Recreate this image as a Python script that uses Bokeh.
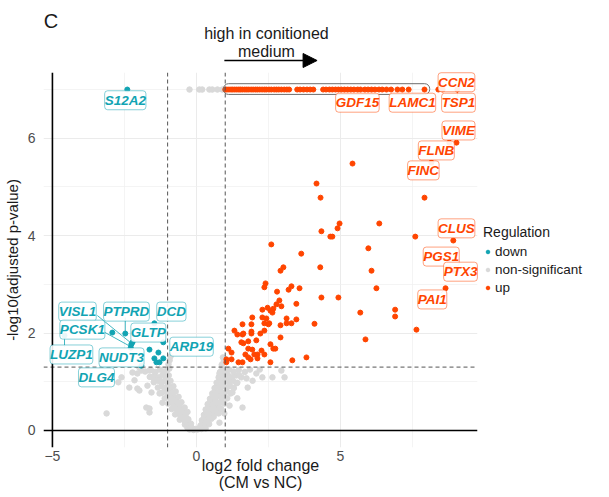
from bokeh.plotting import figure
from bokeh.layouts import column
from bokeh.models import (ColumnDataSource, FixedTicker, Span, Arrow,
                          NormalHead, Legend, LegendItem, Range1d)
from bokeh.core.properties import value
from bokeh.embed import file_html
from bokeh.resources import INLINE

FONT = "Liberation Sans"
GRAY = "#D9D9D9"
UP_C = "#FF4500"
DOWN_C = "#12A4B3"

# ---------------- data ----------------
CAP_Y = 7.0  # capped -log10 adjusted p-value

non_x = [-0.31, -0.24, -0.17, -0.1, -0.03, 0.04, 0.11, 0.18, 0.26, 0.32,
         -0.4, -0.33, -0.25, -0.19, 0.14, 0.21, 0.29, 0.37, 0.44,
         -0.58, -0.5, -0.43, -0.36, -0.28, 0.19, 0.27, 0.35, 0.43, 0.52, 0.6,
         -0.74, -0.65, -0.56, -0.48, -0.39, -0.31, 0.26, 0.34, 0.43, 0.51, 0.6, 0.69, 0.77,
         -0.86, -0.77, -0.68, -0.59, -0.5, -0.41, 0.32, 0.41, 0.5, 0.59, 0.68, 0.78, 0.86,
         -0.98, -0.88, -0.79, -0.7, -0.61, -0.52, 0.39, 0.48, 0.58, 0.67, 0.77, 0.88, 0.97,
         -1.1, -1.0, -0.9, -0.81, -0.71, -0.62, 0.47, 0.56, 0.66, 0.76, 0.86, 0.96, 1.07,
         -1.22, -1.11, -1.0, -0.91, -0.82, -0.72, 0.55, 0.64, 0.74, 0.84, 0.95, 1.06, 1.19,
         -1.34, -1.21, -1.09, -0.99, -0.9, -0.8, 0.63, 0.72, 0.82, 0.93, 1.04, 1.17, 1.3,
         -1.48, -1.33, -1.2, -1.09, -0.99, -0.9, 0.7, 0.8, 0.9, 1.01, 1.13, 1.27, 1.42,
         -1.62, -1.46, -1.31, -1.18, -1.06, -0.96, 0.77, 0.87, 0.97, 1.09, 1.22, 1.38, 1.56,
         -1.78, -1.58, -1.42, -1.27, -1.13, -1.01, -0.94, 0.82, 0.9, 1.0, 1.14, 1.29, 1.47, 1.68, 1.86,
         -0.97, -0.93, 0.88, 0.95, 0.92, -0.9,
         -3.12, -2.71, -2.6, -2.22, -1.98, -2.05, -1.63, -1.46, -1.28, -1.98, -1.74, -1.63,
         -1.7, -2.33, -1.91, -2.05, -2.15, -1.53, -1.56, -1.63, -1.28, -1.18, -0.94,
         0.8, 1.15, 1.49, 1.74, 2.08, 2.29, 2.64, 2.95, 3.06, 1.39, 1.25, 1.42, 1.6, 1.15,
         0.97, 0.8, 1.78, 2.2, 1.95,
         -0.24, 0.1, 0.2, 0.45, 0.55, 0.73, 0.9]
non_y = [0.05, 0.02, 0.06, 0.01, 0.03, 0.02, 0.05, 0.03, 0.07, 0.04,
         0.12, 0.16, 0.11, 0.14, 0.1, 0.15, 0.12, 0.16, 0.13,
         0.22, 0.26, 0.21, 0.27, 0.23, 0.21, 0.26, 0.22, 0.27, 0.24, 0.28,
         0.33, 0.36, 0.31, 0.37, 0.33, 0.38, 0.32, 0.37, 0.33, 0.38, 0.34, 0.39, 0.35,
         0.44, 0.47, 0.43, 0.48, 0.44, 0.47, 0.43, 0.48, 0.44, 0.49, 0.45, 0.48, 0.44,
         0.55, 0.58, 0.54, 0.59, 0.55, 0.58, 0.54, 0.59, 0.55, 0.6, 0.56, 0.59, 0.55,
         0.66, 0.69, 0.65, 0.7, 0.66, 0.69, 0.65, 0.7, 0.66, 0.71, 0.67, 0.7, 0.66,
         0.77, 0.8, 0.76, 0.81, 0.77, 0.8, 0.76, 0.81, 0.77, 0.81, 0.77, 0.8, 0.76,
         0.88, 0.91, 0.87, 0.92, 0.88, 0.91, 0.87, 0.92, 0.88, 0.92, 0.88, 0.91, 0.87,
         0.99, 1.02, 0.98, 1.03, 0.99, 1.02, 0.98, 1.03, 0.99, 1.03, 0.99, 1.02, 0.98,
         1.1, 1.13, 1.09, 1.14, 1.1, 1.13, 1.09, 1.14, 1.1, 1.14, 1.1, 1.13, 1.09,
         1.21, 1.24, 1.2, 1.25, 1.21, 1.24, 1.27, 1.2, 1.25, 1.21, 1.25, 1.21, 1.24, 1.2, 1.25,
         1.36, 1.44, 1.35, 1.42, 1.5, 1.52,
         0.35, 0.99, 1.09, 1.19, 1.29, 1.17, 1.23, 1.09, 1.03, 0.82, 0.47, 0.37,
         0.92, 0.88, 1.23, 0.86, 1.03, 1.09, 0.78, 0.45, 0.76, 0.57, 0.88,
         1.17, 1.09, 1.13, 1.07, 1.17, 1.09, 1.09, 1.23, 1.09, 0.97, 0.78, 0.66, 0.47, 0.51,
         0.35, 0.16, 0.88, 1.25, 1.02,
         CAP_Y, CAP_Y, CAP_Y, CAP_Y, CAP_Y, CAP_Y, CAP_Y]

up_x = [8.78, 9.03, 8.16, 5.42, 4.17, 4.31, 7.92, 4.97, 4.9, 6.35, 4.34, 4.65, 4.72, 7.6,
        8.92, 5.97, 3.64, 4.3, 6.08, 8.75, 8.92, 3.58, 4.34, 4.93, 6.25, 8.65, 5.69, 6.9,
        6.9, 4.1, 7.64, 5.87,
        2.6, 2.92, 3.02, 2.4, 2.36, 2.8, 3.3, 3.2, 2.88, 2.78, 2.95, 3.47, 2.29, 2.47, 2.57,
        2.67, 2.64, 2.29, 2.43, 2.5, 2.36, 2.53, 1.94, 1.91, 3.13, 3.13, 3.3, 3.47, 2.92,
        2.36, 1.32, 1.6, 1.91, 1.91, 2.22, 1.42, 1.6, 1.63, 2.92, 1.56, 1.63, 1.8, 2.08,
        2.57, 2.67, 2.74, 1.11, 1.22, 1.8, 1.94, 1.7, 1.8, 1.88, 2.01, 2.12, 2.12, 2.36,
        2.26, 1.04, 1.22, 1.46, 1.6, 1.04, 2.57, 3.33, 3.82]
up_y = [5.91, 5.91, 5.5, 5.48, 5.07, 4.78, 4.78, 4.25, 4.15, 4.25, 4.09, 3.98, 3.98, 3.98,
        3.9, 3.74, 3.63, 3.35, 3.28, 3.35, 3.28, 2.92, 2.73, 2.73, 2.92, 2.92, 2.42, 2.48,
        2.34, 2.19, 2.07, 1.87,
        3.82, 3.28, 3.35, 3.02, 2.94, 2.85, 2.96, 2.89, 2.67, 2.59, 2.55, 2.6, 2.48, 2.52, 2.46,
        2.5, 2.42, 2.32, 2.3, 2.18, 2.2, 2.2, 2.32, 2.18, 2.3, 2.2, 2.2, 2.28, 2.16,
        2.05, 2.05, 2.18, 2.03, 1.99, 1.99, 1.97, 1.97, 1.99, 1.91, 1.81, 1.79, 1.83, 1.85,
        1.77, 1.68, 1.68, 1.68, 1.6, 1.68, 1.66, 1.56, 1.5, 1.46, 1.56, 1.56, 1.48, 1.56,
        1.64, 1.46, 1.46, 1.4, 1.4, 1.4, 1.4, 1.44, 1.5]

# genes with capped p-value (plotted at CAP_Y)
up_top_x = [1.0, 1.06, 1.13, 1.2, 1.26, 1.33, 1.4, 1.47, 1.53, 1.6, 1.68, 1.75, 1.82, 1.9,
            1.97, 2.05, 2.12, 2.2, 2.28, 2.36, 2.43, 2.52, 2.6, 2.7, 2.78, 2.86, 2.95, 3.05,
            3.14, 3.22, 3.5, 3.6, 3.72, 3.84, 3.95, 4.06, 4.4, 4.5, 4.62, 4.72, 4.83, 4.93,
            5.03, 5.14, 5.25, 5.36, 5.47, 5.6, 5.7, 5.85, 5.96, 6.08, 6.2, 6.34, 6.45, 6.6,
            6.76, 6.98, 7.15, 7.37, 7.92]
up_top_extra_x = [8.4, 8.55, 9.06]

down_x = [-2.4, -4.58, -2.92, -2.47, -1.46, -2.22, -2.26, -2.28, -1.15, -1.63, -1.32,
          -1.15, -1.46, -1.39, -1.28, -1.91]
down_y = [CAP_Y, 1.95, 2.01, 1.99, 2.2, 1.81, 1.77, 1.7, 1.81, 1.66, 1.6, 1.48, 1.48,
          1.4, 1.4, 1.33]

label_genes = ["S12A2", "CCN2", "GDF15", "LAMC1", "TSP1", "VIME", "FLNB", "FINC", "CLUS",
               "PGS1", "PTX3", "PAI1", "VISL1", "PTPRD", "DCD", "PCSK1", "GLTP", "LUZP1",
               "NUDT3", "ARP19", "DLG4"]
label_reg = ["down", "up", "up", "up", "up", "up", "up", "up", "up", "up", "up", "up",
             "down", "down", "down", "down", "down", "down", "down", "down", "down"]
# label placements (repelled positions)
label_x = [-2.47, 9.03, 5.59, 7.5, 9.1, 9.1, 8.33, 7.88, 9.03, 8.5, 9.17, 8.19,
           -4.13, -2.43, -0.87, -3.96, -1.67, -4.34, -2.6, -0.17, -3.47]
label_y = [6.78, 7.15, 6.73, 6.73, 6.73, 6.16, 5.75, 5.34, 4.15, 3.57, 3.26, 2.69,
           2.44, 2.44, 2.44, 2.07, 2.01, 1.56, 1.5, 1.72, 1.09]

seg_x0 = [9.06, -3.44, -3.2, -2.47, -4.58, 8.65]
seg_y0 = [CAP_Y, 2.36, 2.02, 2.32, 1.72, 2.92]
seg_x1 = [9.06, -2.26, -2.28, -2.47, -4.58, 8.5]
seg_y1 = [6.86, 1.79, 1.72, 1.99, 1.95, 2.82]
seg_reg = ["up", "down", "down", "down", "down", "up"]

P_THRESH = 1.301   # -log10(0.05)
FC_THRESH = 1.0

X_LO, X_HI = -5.31, 9.76
PX_PER_X = 434 / (X_HI - X_LO)
HEAD_H = 72

# ---------------- header strip (panel tag + direction arrow) ----------------
h = figure(frame_width=470, frame_height=HEAD_H,
           x_range=Range1d(X_LO - 36 / PX_PER_X, X_HI), y_range=Range1d(0, HEAD_H),
           output_backend="svg", toolbar_location=None, title=None,
           x_axis_location=None, y_axis_location=None, min_border=0)
h.grid.visible = False
h.outline_line_color = None
h.text(x=[-6.3], y=[HEAD_H - 20], text=["C"], text_font=value(FONT),
       text_font_size="20px", text_align="center", text_baseline="middle",
       text_color="#1A1A1A")
h.text(x=[1.18, 1.18], y=[HEAD_H - 33, HEAD_H - 51],
       text=["high in conitioned", "medium"],
       text_font=value(FONT), text_font_size="16px", text_align="center",
       text_baseline="middle", text_color="#1A1A1A")
h.add_layout(Arrow(end=NormalHead(size=14, fill_color="black", line_color="black"),
                   x_start=-0.28, y_start=HEAD_H - 60, x_end=2.94, y_end=HEAD_H - 60,
                   line_color="black", line_width=1.5))

# ---------------- main volcano panel ----------------
p = figure(frame_width=434, frame_height=375,
           x_range=Range1d(X_LO, X_HI), y_range=Range1d(-0.35, 7.35),
           output_backend="svg", toolbar_location=None, title=None,
           min_border_left=36, min_border_right=0, min_border_top=0,
           min_border_bottom=42)
p.outline_line_color = None
p.background_fill_color = "white"

# grids
p.xgrid.ticker = FixedTicker(ticks=[-5, 0, 5], minor_ticks=[-2.5, 2.5, 7.5])
p.ygrid.ticker = FixedTicker(ticks=[0, 2, 4, 6], minor_ticks=[1, 3, 5, 7])
for g in (p.xgrid, p.ygrid):
    g.grid_line_color = "#EBEBEB"
    g.grid_line_width = 1
    g.minor_grid_line_color = "#EFEFEF"
    g.minor_grid_line_width = 0.7

# axes
p.xaxis.ticker = FixedTicker(ticks=[-5, 0, 5])
p.xaxis.major_label_overrides = {-5: "\u22125", 0: "0", 5: "5"}
p.yaxis.ticker = FixedTicker(ticks=[0, 2, 4, 6])
for ax in (p.xaxis[0], p.yaxis[0]):
    ax.axis_line_color = None
    ax.major_tick_line_color = None
    ax.minor_tick_line_color = None
    ax.major_label_text_font = FONT
    ax.major_label_text_font_size = "14px"
    ax.major_label_text_color = "#4D4D4D"
    ax.axis_label_text_font = FONT
    ax.axis_label_text_font_style = "normal"
    ax.axis_label_text_color = "#1A1A1A"
p.xaxis.axis_label = "log2 fold change\n(CM vs NC)"
p.xaxis.axis_label_text_font_size = "16px"
p.xaxis.axis_label_text_line_height = 1.0
p.xaxis.major_label_standoff = -3
p.xaxis.axis_label_standoff = -7
p.yaxis.axis_label = "-log10(adjusted p-value)"
p.yaxis.axis_label_text_font_size = "15px"
p.yaxis.major_label_standoff = 2
p.yaxis.axis_label_standoff = 4

# points
r_non = p.scatter(non_x, non_y, size=5.5, color=GRAY)
r_up = p.scatter(up_x, up_y, size=5, color=UP_C)
p.scatter(up_top_x, [CAP_Y] * len(up_top_x), size=5, color=UP_C)
p.scatter(up_top_extra_x, [CAP_Y] * len(up_top_extra_x), size=5, color=UP_C)
r_down = p.scatter(down_x, down_y, size=5, color=DOWN_C)

# box of the capped group label
p.quad(left=min(up_top_x) - 0.06, right=max(up_top_x) + 0.18,
       bottom=CAP_Y - 0.1, top=CAP_Y + 0.12,
       fill_alpha=0, line_color="#6E6E6E", line_width=1, border_radius=5)

# threshold / reference lines
for loc in (-FC_THRESH, FC_THRESH):
    p.add_layout(Span(location=loc, dimension="height", line_color="#555555",
                      line_dash="4 3", line_width=1))
p.add_layout(Span(location=P_THRESH, dimension="width", line_color="#555555",
                  line_dash="4 3", line_width=1))
p.add_layout(Span(location=0, dimension="width", line_color="black", line_width=1.6))
p.add_layout(Span(location=-5, dimension="height", line_color="black", line_width=1.6))

# connectors
col = {"up": UP_C, "down": DOWN_C}
p.segment(seg_x0, seg_y0, seg_x1, seg_y1, line_color=[col[r] for r in seg_reg],
          line_width=0.8, level="overlay")

# gene labels
lab_src = ColumnDataSource(dict(x=label_x, y=label_y, text=label_genes,
                                color=[col[r] for r in label_reg]))
p.text(x="x", y="y", text="text", source=lab_src,
       text_color="color", text_font=value(FONT), text_font_size="13.5px",
       text_font_style="bold italic", text_align="center",
       text_baseline="middle", text_line_height=1.0, background_fill_color="white",
       background_fill_alpha=0.9, border_line_color="color",
       border_line_alpha=0.5, border_line_width=1, border_radius=3,
       padding=(0, 2), level="overlay")

# legend
legend = Legend(items=[LegendItem(label="down", renderers=[r_down]),
                       LegendItem(label="non-significant", renderers=[r_non]),
                       LegendItem(label="up", renderers=[r_up])],
                title="Regulation", location="center_left")
legend.title_text_font = FONT
legend.title_text_font_size = "14px"
legend.title_text_font_style = "normal"
legend.title_text_color = "#1A1A1A"
legend.title_standoff = 3
legend.label_text_font = FONT
legend.label_text_font_size = "13.5px"
legend.label_text_color = "#1A1A1A"
legend.glyph_width = 9
legend.glyph_height = 18
legend.label_height = 18
legend.label_standoff = 3
legend.spacing = 0
legend.padding = 9
legend.margin = 6
legend.border_line_color = None
legend.background_fill_alpha = 0
p.add_layout(legend, "right")

layout = column(h, p, spacing=0)
open("out.html", "w").write(file_html(layout, INLINE))
